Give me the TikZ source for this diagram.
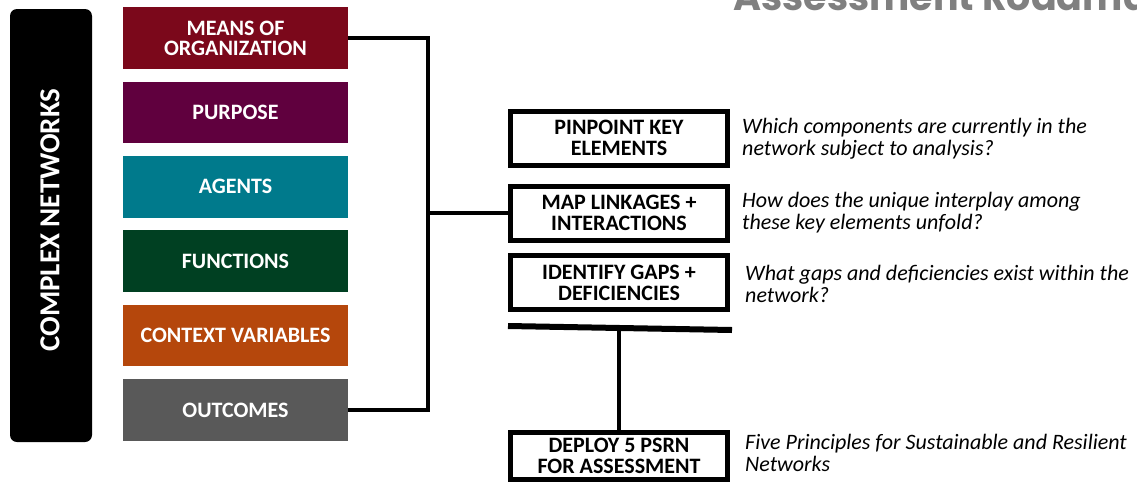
\documentclass[tikz,border=0pt]{standalone}
\usepackage{fontspec}
\setmainfont{Carlito}
\newfontfamily\titlefont{Poppins}
\usetikzlibrary{positioning}

\definecolor{meanscol}{RGB}{123,8,27}
\definecolor{purposecol}{RGB}{96,0,62}
\definecolor{agentscol}{RGB}{0,122,140}
\definecolor{functionscol}{RGB}{0,64,34}
\definecolor{contextcol}{RGB}{181,71,12}
\definecolor{outcomescol}{RGB}{89,89,89}
\definecolor{titlegray}{RGB}{128,128,128}

\begin{document}
\begin{tikzpicture}[x=1pt,y=-1pt,node distance=12.5pt,
  side node/.style={rectangle,minimum width=225pt,minimum height=61.5pt,inner sep=0pt,
    text=white,align=center,font=\fontsize{22}{20}\selectfont\bfseries},
  step node/.style={rectangle,draw=black,line width=5pt,fill=white,minimum width=217pt,
    minimum height=54pt,inner sep=0pt,align=center,font=\fontsize{22}{21}\selectfont\bfseries},
  note/.style={anchor=north west,align=left,inner sep=0pt,
    font=\fontsize{22}{22.5}\selectfont\itshape},
  link/.style={line width=4pt}]
  \clip (0,0) rectangle (1137,485);
  \fill[white] (0,0) rectangle (1137,485);

  % title, cut at the top
  \node[anchor=base west,inner sep=0pt,text=titlegray,font=\titlefont\fontsize{38}{38}\selectfont\bfseries]
    (title) at (733,10) {Assessment Roadmap};

  % left bar
  \node[rectangle,rounded corners=7pt,fill=black,minimum width=82pt,minimum height=433pt,inner sep=0pt]
    (bar) at (51,225.5) {};
  \node[rotate=90,text=white,font=\fontsize{29}{29}\selectfont\bfseries] (cn) at (50,220) {COMPLEX NETWORKS};

  % the six parts
  \node[side node,fill=meanscol] (means) at (235.5,38) {MEANS OF\\ORGANIZATION};
  \node[side node,fill=purposecol] (purpose) [below=of means] {PURPOSE};
  \node[side node,fill=agentscol] (agents) [below=of purpose] {AGENTS};
  \node[side node,fill=functionscol] (functions) [below=of agents] {FUNCTIONS};
  \node[side node,fill=contextcol] (context) [below=of functions] {CONTEXT VARIABLES};
  \node[side node,fill=outcomescol] (outcomes) [below=of context] {OUTCOMES};

  % steps
  \node[step node] (pinpoint) at (619,138) {PINPOINT KEY\\ELEMENTS};
  \node[step node] (map) at (619,213) {MAP LINKAGES +\\INTERACTIONS};
  \node[step node] (identify) at (619,282.5) {IDENTIFY GAPS +\\DEFICIENCIES};
  \node[step node,minimum height=47pt] (deploy) at (619,456) {DEPLOY 5 PSRN\\FOR ASSESSMENT};

  \node[note] (q1) at (742,118) {Which components are currently in the\\network subject to analysis?};
  \node[note] (q2) at (742,192) {How does the unique interplay among\\these key elements unfold?};
  \node[note] (q3) at (745,265) {What gaps and deficiencies exist within the\\network?};
  \node[note] (q4) at (745,434) {Five Principles for Sustainable and Resilient\\Networks};

  % connectors
  \coordinate (spine) at (428,34);
  \coordinate (barw) at (508,326);
  \coordinate (bare) at (732,330);
  \draw[link,line join=miter] (means.east) -- (means.east -| spine) -- (outcomes.east -| spine) -- (outcomes.east);
  \draw[link] (map.west) -- (map.west -| spine);
  \draw[line width=6pt] (barw) -- (bare);
  \draw[link] (deploy.north) -- (deploy.north |- barw);
\end{tikzpicture}
\end{document}
